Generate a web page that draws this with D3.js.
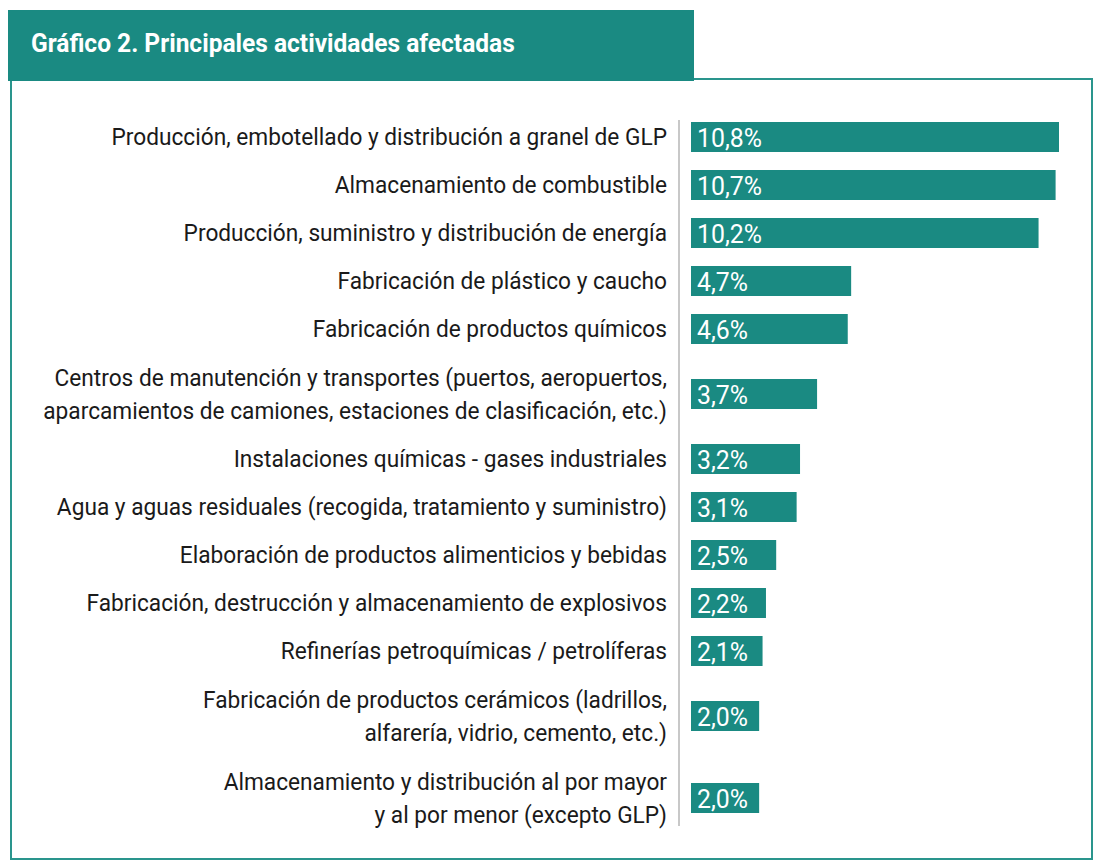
<!DOCTYPE html>
<html>
<head>
<meta charset="utf-8">
<script src="https://cdn.jsdelivr.net/npm/d3@7"></script>
<style>
  body { margin: 0; background: #fff; }
  svg text { font-family: "Liberation Sans Narrow", "Roboto", "Liberation Sans", sans-serif; }
</style>
</head>
<body>
<div id="chart"></div>
<script>
// data
var categories = [
  ["Producción, embotellado y distribución a granel de GLP"],
  ["Almacenamiento de combustible"],
  ["Producción, suministro y distribución de energía"],
  ["Fabricación de plástico y caucho"],
  ["Fabricación de productos químicos"],
  ["Centros de manutención y transportes (puertos, aeropuertos,", "aparcamientos de camiones, estaciones de clasificación, etc.)"],
  ["Instalaciones químicas - gases industriales"],
  ["Agua y aguas residuales (recogida, tratamiento y suministro)"],
  ["Elaboración de productos alimenticios y bebidas"],
  ["Fabricación, destrucción y almacenamiento de explosivos"],
  ["Refinerías petroquímicas / petrolíferas"],
  ["Fabricación de productos cerámicos (ladrillos,", "alfarería, vidrio, cemento, etc.)"],
  ["Almacenamiento y distribución al por mayor", "y al por menor (excepto GLP)"]
];
var values = [10.8, 10.7, 10.2, 4.7, 4.6, 3.7, 3.2, 3.1, 2.5, 2.2, 2.1, 2.0, 2.0];
var title = "Gráfico 2. Principales actividades afectadas";

var W = 1093, H = 861;
var teal = "#1a8a82";

var svg = d3.select("#chart").append("svg")
  .attr("width", W).attr("height", H);

// frame
svg.append("path")
  .attr("d", "M11,80 V859 H1092 V79 H694")
  .attr("fill", "none")
  .attr("stroke", "#2a958d")
  .attr("stroke-width", 2);

// title box
svg.append("rect")
  .attr("x", 8).attr("y", 10)
  .attr("width", 686).attr("height", 71)
  .attr("fill", teal);

// row layout: two-line rows take more space
var rowH = categories.map(function(c) { return c.length > 1 ? 82 : 48; });
var starts = [0];
rowH.forEach(function(h, i) { starts.push(starts[i] + h); });
var total = starts[starts.length - 1];
var y = d3.scaleLinear().domain([0, total]).range([113, 113 + total]);
var center = function(i) { return y(starts[i] + rowH[i] / 2); };

var x = d3.scaleLinear().domain([0, 10.8]).range([691, 1059]);

// squeeze text horizontally to get the condensed look of the original
function fit(txt, size, weight, target) {
  var p = svg.append("text").style("font-size", size + "px").style("font-weight", weight).text(txt);
  var w = p.node().getComputedTextLength();
  p.remove();
  return target / w;
}
var k = fit(categories[0][0], 23, "normal", 556);
var kv = fit("10,8%", 25, "normal", 65);
var kt = fit(title, 26, "bold", 484);

svg.append("text")
  .attr("transform", "translate(31,43) scale(" + kt + ",1)")
  .attr("dy", "0.35em")
  .style("font-size", "26px")
  .style("font-weight", "bold")
  .attr("fill", "#fff")
  .text(title);

// axis line
svg.append("line")
  .attr("x1", 679).attr("x2", 679)
  .attr("y1", 120).attr("y2", 826)
  .attr("stroke", "#c8c8c8")
  .attr("stroke-width", 2);

var rows = svg.selectAll(".row")
  .data(values)
  .enter().append("g")
  .attr("class", "row");

rows.append("rect")
  .attr("x", x(0))
  .attr("y", function(d, i) { return center(i) - 15; })
  .attr("width", function(d) { return x(d) - x(0); })
  .attr("height", 30)
  .attr("fill", teal);

rows.append("text")
  .attr("transform", function(d, i) { return "translate(" + (x(0) + 6) + "," + (center(i) + 1) + ") scale(" + kv + ",1)"; })
  .attr("dy", "0.35em")
  .style("font-size", "25px")
  .attr("fill", "#fff")
  .text(function(d) { return d.toFixed(1).replace(".", ",") + "%"; });

rows.each(function(d, i) {
  var lines = categories[i];
  var g = d3.select(this).append("g")
    .attr("transform", "translate(667," + center(i) + ") scale(" + k + ",1)");
  lines.forEach(function(t, j) {
    g.append("text")
      .attr("y", (j - (lines.length - 1) / 2) * 33)
      .attr("dy", "0.35em")
      .attr("text-anchor", "end")
      .style("font-size", "23px")
      .attr("fill", "#1a1a1a")
      .text(t);
  });
});
</script>
</body>
</html>
